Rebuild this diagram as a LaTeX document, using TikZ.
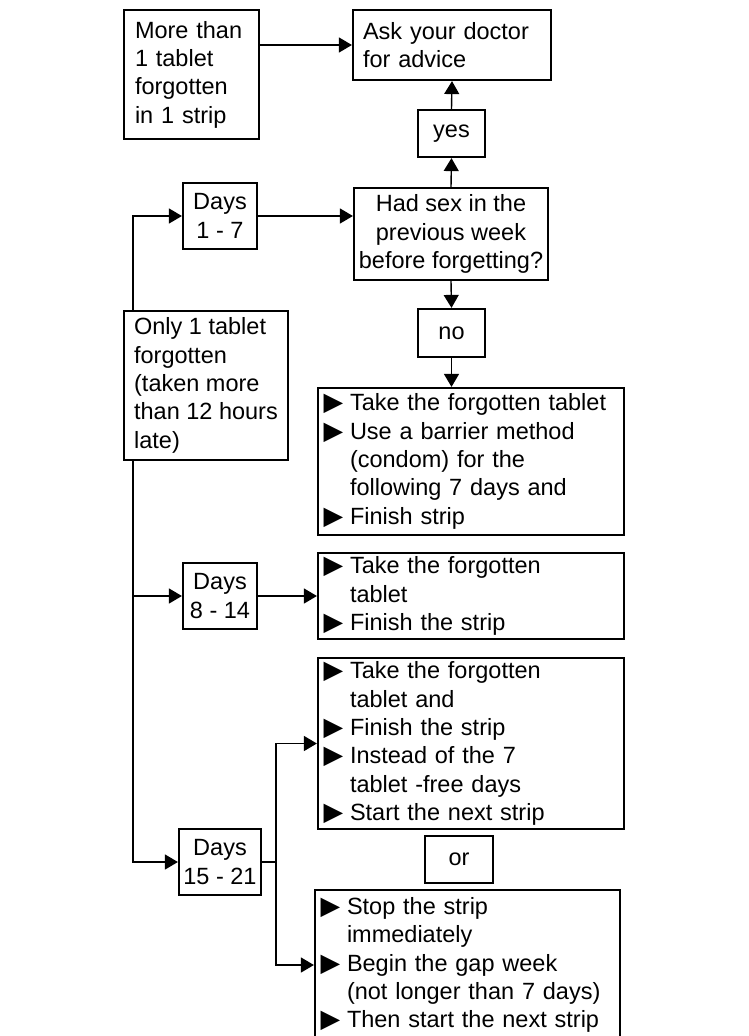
\documentclass[tikz,border=0pt]{standalone}
\usepackage{fontspec}
\setmainfont{Liberation Sans}
\newfontfamily\dvfont{DejaVu Sans}
\usetikzlibrary{arrows.meta}
\newcommand\fsz{\fontsize{23.5pt}{28.3pt}\selectfont}
\newcommand\bl{\makebox[27pt][l]{\hspace*{0.5pt}\dvfont\fontsize{25.5pt}{28.3pt}\selectfont ▶}}
\newcommand\ind{\hspace*{27pt}}
\begin{document}
\begin{tikzpicture}[x=1pt,y=-1pt,
  box/.style={draw, line width=2.2pt, fill=white, inner sep=0pt, font=\fsz, text=black},
  cbox/.style={box, align=center},
  lbox/.style={box, align=left},
  conn/.style={line width=1.4pt},
  arr/.style={conn, -{Triangle[length=13pt,width=15pt]}}]
\path[use as bounding box, fill=white] (0,0) rectangle (748,1036);

\node[lbox, minimum width=135pt, minimum height=129pt, text width=113pt] (more) at (191.5,74.5) {More than\\1 tablet\\forgotten\\in 1 strip};
\node[lbox, minimum width=198pt, minimum height=70pt, text width=178pt] (ask) at (452,45) {Ask your doctor\\for advice};
\node[cbox, minimum width=67pt, minimum height=47pt] (yes) at (451.5,133.5) {yes};
\node[cbox, minimum width=194pt, minimum height=92pt] (had) at (451,234) {Had sex in the\\previous week\\before forgetting?};
\node[cbox, minimum width=74pt, minimum height=66pt] (d1) at (220,216) {Days\\1 - 7};
\node[lbox, minimum width=164pt, minimum height=149pt] (only) at (206,385.5) {Only 1 tablet\\forgotten\\(taken more\\than 12 hours\\late)};
\node[cbox, minimum width=67pt, minimum height=48pt] (no) at (451.5,333) {no};
\node[lbox, minimum width=306pt, minimum height=147pt, text width=296pt] (b1) at (471,461.5) {\bl Take the forgotten tablet\\\bl Use a barrier method\\\ind (condom) for the\\\ind following 7 days and\\\bl Finish strip};
\node[cbox, minimum width=74pt, minimum height=66pt] (d2) at (220,596) {Days\\8 - 14};
\node[lbox, minimum width=306pt, minimum height=86pt, text width=296pt] (b2) at (471,596) {\bl Take the forgotten\\\ind tablet\\\bl Finish the strip};
\node[lbox, minimum width=306pt, minimum height=171pt, text width=296pt] (b3) at (471,743.5) {\bl Take the forgotten\\\ind tablet and\\\bl Finish the strip\\\bl Instead of the 7\\\ind tablet -free days\\\bl Start the next strip};
\node[cbox, minimum width=68pt, minimum height=47pt] (or) at (459,859.5) {or};
\node[cbox, minimum width=82pt, minimum height=66pt] (d3) at (220,862) {Days\\15 - 21};
\node[lbox, minimum width=305pt, minimum height=150pt, text width=295pt] (b4) at (467.5,965) {\bl Stop the strip\\\ind immediately\\\bl Begin the gap week\\\ind (not longer than 7 days)\\\bl Then start the next strip};

\draw[arr] (ask.west -| more.east) -- (ask.west);
\draw[arr] (had.north) -- (yes.south);
\draw[arr] (yes.north) -- (ask.south);
\draw[arr] (d1.east) -- (d1.east -| had.west);
\draw[arr] (had.south) -- (no.north);
\draw[arr] (no.south) -- (no.south |- b1.north);
\draw[arr] ([xshift=10pt]only.north west) |- (d1.west);
\draw[arr] ([xshift=10pt]only.south west) |- (d2.west);
\draw[arr] ([xshift=10pt]only.south west) |- (d3.west);
\draw[arr] (d2.east) -- (b2.west);
\coordinate (br) at (276,862);
\draw[conn] (d3.east) -- (br);
\draw[arr] (br) |- (b3.west);
\draw[arr] (br) |- (b4.west);
\end{tikzpicture}
\end{document}
